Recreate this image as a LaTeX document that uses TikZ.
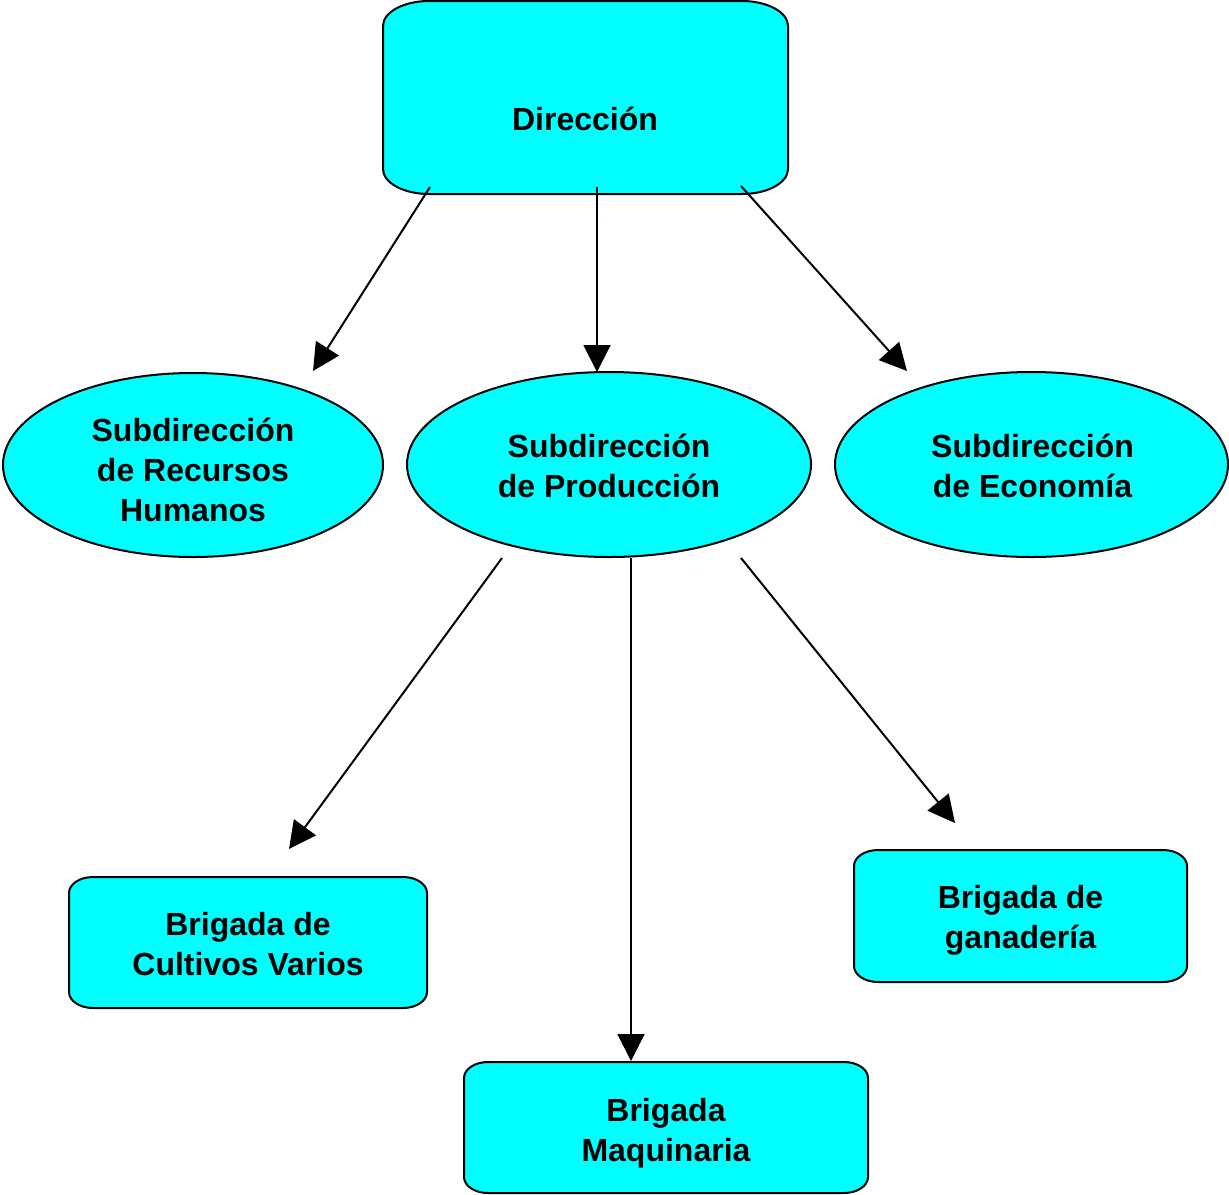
\documentclass[tikz,border=0pt]{standalone}
\usepackage{fontspec}
\setmainfont{Liberation Sans}
\usetikzlibrary{shapes.geometric,arrows.meta,calc}
\definecolor{boxcyan}{HTML}{00FFFF}
\newcommand{\eboxdraw}[3]{% name, rx, ry
  \filldraw[boxline]
    ([xshift=#2]#1.north west) -- ([xshift=-#2]#1.north east)
    arc[start angle=90,end angle=0,x radius=#2,y radius=#3]
    -- ([yshift=#3]#1.south east)
    arc[start angle=0,end angle=-90,x radius=#2,y radius=#3]
    -- ([xshift=#2]#1.south west)
    arc[start angle=270,end angle=180,x radius=#2,y radius=#3]
    -- ([yshift=-#3]#1.north west)
    arc[start angle=180,end angle=90,x radius=#2,y radius=#3]
    -- cycle;}
\begin{document}
\begin{tikzpicture}[x=0.5pt,y=-0.5pt,
  boxline/.style={draw=black,fill=boxcyan,line width=1pt},
  txt/.style={font=\fontsize{16}{20}\selectfont\bfseries,align=center,text=black},
  boxnode/.style={rectangle,inner sep=0pt,outer sep=0pt},
  ellnode/.style={ellipse,draw=black,fill=boxcyan,line width=1pt,inner sep=0pt,outer sep=0pt},
  arr/.style={draw=black,line width=1pt,-{Triangle[length=13.5pt,width=13.5pt]}}]
\useasboundingbox (0,0) rectangle (1229,1194);

% Direccion box
\node[boxnode,minimum width=202.5pt,minimum height=96.5pt] (dir) at (585.5,97.5) {};
\eboxdraw{dir}{23pt}{12.5pt}
\node[txt] (dirtext) at (585,119) {Dirección};

% Ellipses
\node[ellnode,minimum width=190pt,minimum height=92pt] (rh) at (193,465) {};
\node[txt] (rhtext) at ($(rh.center)+(0,5)$) {Subdirección\\de Recursos\\Humanos};
\node[ellnode,minimum width=202pt,minimum height=92.5pt] (prod) at (609,464.5) {};
\node[txt] (prodtext) at ($(prod.center)+(0,1)$) {Subdirección\\de Producción};
\node[ellnode,minimum width=196.5pt,minimum height=92.5pt] (eco) at (1031.5,464.5) {};
\node[txt] (ecotext) at ($(eco.center)+(1,1)$) {Subdirección\\de Economía};

% Brigade boxes
\node[boxnode,minimum width=179pt,minimum height=65.5pt] (cult) at (248,942.5) {};
\eboxdraw{cult}{12pt}{8pt}
\node[txt] (culttext) at ($(cult.center)+(0,2)$) {Brigada de\\Cultivos Varios};

\node[boxnode,minimum width=202pt,minimum height=65.5pt] (maq) at (666,1127.5) {};
\eboxdraw{maq}{12pt}{8pt}
\node[txt] (maqtext) at ($(maq.center)+(0,6)$) {Brigada\\Maquinaria};

\node[boxnode,minimum width=166.5pt,minimum height=66pt] (gan) at (1020.5,916) {};
\eboxdraw{gan}{12pt}{8pt}
\node[txt] (gantext) at ($(gan.center)+(0,4)$) {Brigada de\\ganadería};

% Connectors
\draw[arr] ($(dir.south)+(-155.5,-7)$) -- ($(rh.north)+(120,-2)$);
\draw[arr] ($(dir.south)+(11.5,-7)$) -- ($(prod.north)+(-12,0)$);
\draw[arr] ($(dir.south)+(155.5,-8)$) -- ($(eco.north)+(-124.5,-1)$);
\draw[arr] ($(prod.south)+(-107,1)$) -- ($(cult.north)+(41,-28)$);
\draw[arr] ($(prod.south)+(22,1)$) -- ($(maq.north)+(-35,-1)$);
\draw[arr] ($(prod.south)+(132,1)$) -- ($(gan.north)+(-65.5,-27)$);
\end{tikzpicture}
\end{document}
